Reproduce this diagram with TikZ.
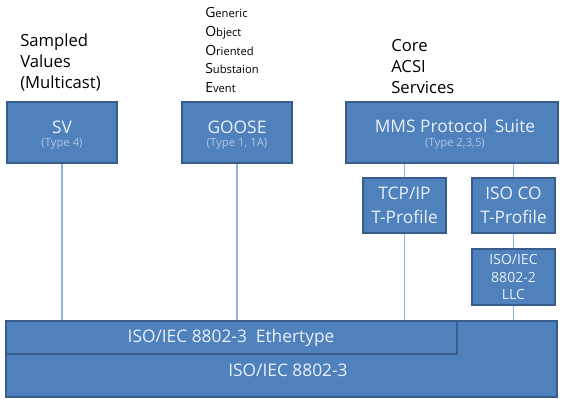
\documentclass[tikz,border=0pt]{standalone}
\usepackage{fontspec}
\setmainfont{Open Sans}
\usetikzlibrary{fit}
\definecolor{boxfill}{HTML}{4F81BD}
\definecolor{boxline}{HTML}{385D8A}
\definecolor{wirecol}{HTML}{8EB4E3}
\definecolor{subtxt}{HTML}{AFC6E4}
\definecolor{maintxt}{HTML}{EAF0F8}
% larger first letter of each word in the GOOSE acronym
\newcommand\initialcap[1]{{\fontsize{10.5}{11}\selectfont #1}}
\begin{document}
\begin{tikzpicture}[x=0.75pt,y=-0.75pt,
  box/.style={draw=boxline, line width=1.2pt, fill=boxfill, inner sep=0pt},
  wire/.style={draw=wirecol, line width=1pt},
  maintext/.style={text=maintxt, inner sep=0pt, align=center, font=\fontsize{13}{15}\selectfont},
  smalltext/.style={text=maintxt, inner sep=0pt, align=center, font=\fontsize{10.5}{13.2}\selectfont},
  subtext/.style={text=subtxt, inner sep=0pt, font=\fontsize{8.5}{10}\selectfont},
  caption/.style={align=left, anchor=west, inner sep=0pt, font=\fontsize{12.5}{15.75}\selectfont}]
\useasboundingbox (0,0) rectangle (565,399);

% link-layer bars
\node[box, fit={(6,321) (557,397)}] (base) {};
\node[box, fit={(6,321) (457,354)}] (ether) {};
\node[maintext] (ethertxt) at (231,338) {ISO/IEC 8802-3\ \ Ethertype};
\node[maintext] (basetxt) at (288,370) {ISO/IEC 8802-3};

% protocol boxes
\node[box, fit={(7,102) (117,163)}] (sv) {};
\node[box, fit={(182,102) (292,163)}] (goose) {};
\node[box, fit={(346,102) (558,163)}] (mms) {};
\node[box, fit={(363,178) (446,233)}] (tcp) {};
\node[box, fit={(472,178) (555,233)}] (isoco) {};
\node[box, fit={(472,249) (555,305)}] (llc) {};

\node[maintext] (svtxt) at (62,127) {SV};
\node[subtext] (svsub) at (62,144) {(Type 4)};
\node[maintext] (goosetxt) at (237,127) {GOOSE};
\node[subtext] (goosesub) at (237,144) {(Type 1, 1A)};
\node[maintext] (mmstxt) at (455,126) {MMS Protocol\ \,Suite};
\node[subtext] (mmssub) at (455,144) {(Type 2,3,5)};
\node[maintext] (tcptxt) at (tcp.center) {TCP/IP\\[3pt]T-Profile};
\node[maintext] (isocotxt) at (isoco.center) {ISO CO\\[3pt]T-Profile};
\node[smalltext] (llctxt) at (llc.center) {ISO/IEC\\8802-2\\LLC};

% connectors
\draw[wire] (sv.south) -- (sv.south |- ether.north);
\draw[wire] (goose.south) -- (goose.south |- ether.north);
\draw[wire] (mms.south -| tcp.north) -- (tcp.north);
\draw[wire] (mms.south -| isoco.north) -- (isoco.north);
\draw[wire] (tcp.south) -- (tcp.south |- ether.north);
\draw[wire] (isoco.south) -- (llc.north);
\draw[wire] (llc.south) -- (llc.south |- base.north);

% captions
\node[caption] (svcap) at (20,62) {Sampled\\Values\\(Multicast)};
\node[caption] (mmscap) at (391,67) {Core\\ACSI\\Services};
\node[align=left, anchor=west, inner sep=0pt, font=\fontsize{8.4}{13.9}\selectfont] (goosecap) at (205,50)
  {\initialcap{G}eneric\\
   \initialcap{O}bject\\
   \initialcap{O}riented\\
   \initialcap{S}ubstaion\\
   \initialcap{E}vent};
\end{tikzpicture}
\end{document}
